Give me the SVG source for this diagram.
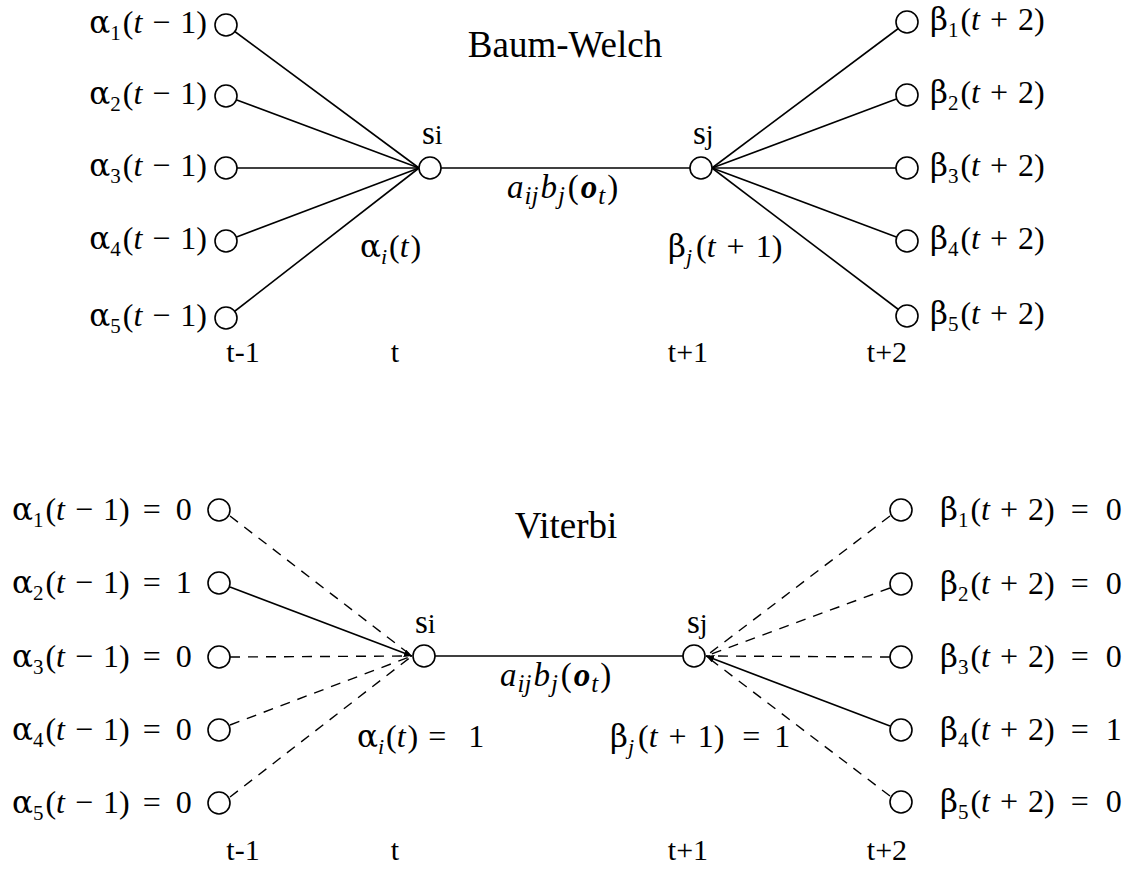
<svg xmlns="http://www.w3.org/2000/svg" width="1137" height="871" viewBox="0 0 1137 871">
<style>
text{font-family:"Liberation Serif","Times New Roman",serif;font-size:32px;fill:#000}
.title{font-size:37px}
.tl{font-size:30px}
.g{font-family:"DejaVu Serif","Liberation Serif",serif;font-size:31px}
.s{font-size:21px}
.si{font-size:22px;font-style:italic}
.i{font-style:italic}
.bi{font-style:italic;font-weight:bold}
.m{font-size:33px}
.ms{font-size:25px;font-style:italic}
.sn{font-size:33px}
.ss{font-size:28px}
.n{fill:#fff;stroke:#000;stroke-width:1.6}
.e{stroke:#000;stroke-width:1.6;fill:none}
.d{stroke:#000;stroke-width:1.4;fill:none;stroke-dasharray:10 8}
</style>
<defs>
<marker id="ah" viewBox="0 0 10 10" refX="10" refY="5" markerWidth="5" markerHeight="5" orient="auto">
<path d="M0,0 L10,5 L0,10 z" fill="#000"/>
</marker>
</defs>
<rect width="1137" height="871" fill="#fff"/>

<g id="connectors">
<line class="e" x1="226" y1="25" x2="419" y2="168"/>
<line class="e" x1="226" y1="96" x2="419" y2="168"/>
<line class="e" x1="226" y1="168" x2="419" y2="168"/>
<line class="e" x1="226" y1="241" x2="419" y2="168"/>
<line class="e" x1="226" y1="318" x2="419" y2="168"/>
<line class="e" x1="430" y1="168" x2="701" y2="168"/>
<line class="e" x1="712" y1="168" x2="907" y2="22"/>
<line class="e" x1="712" y1="168" x2="907" y2="95"/>
<line class="e" x1="712" y1="168" x2="907" y2="168"/>
<line class="e" x1="712" y1="168" x2="907" y2="241"/>
<line class="e" x1="712" y1="168" x2="907" y2="316"/>
<line class="d" x1="230" y1="516" x2="412" y2="656"/>
<line class="e" x1="230" y1="587" x2="412" y2="656" marker-end="url(#ah)"/>
<line class="d" x1="230" y1="657" x2="412" y2="656"/>
<line class="d" x1="230" y1="725" x2="412" y2="656"/>
<line class="d" x1="230" y1="797" x2="412" y2="656"/>
<line class="e" x1="424" y1="656" x2="694" y2="656"/>
<line class="d" x1="890" y1="516" x2="706" y2="656"/>
<line class="d" x1="890" y1="588" x2="706" y2="656"/>
<line class="d" x1="890" y1="657" x2="706" y2="656"/>
<line class="e" x1="890" y1="726" x2="706" y2="656" marker-end="url(#ah)"/>
<line class="d" x1="890" y1="796" x2="706" y2="656"/>
</g>

<g id="baum-welch">
<text class="title" x="565" y="57" text-anchor="middle">Baum-Welch</text>
<g id="a1"><circle class="n" cx="226" cy="25" r="11"/><text x="207" y="33" text-anchor="end"><tspan class="g">α</tspan><tspan class="s" dy="7">1</tspan><tspan dy="-7" dx="2">(</tspan><tspan class="i">t</tspan><tspan dx="10">−</tspan><tspan dx="10">1)</tspan></text></g>
<g id="a2"><circle class="n" cx="226" cy="96" r="11"/><text x="207" y="104" text-anchor="end"><tspan class="g">α</tspan><tspan class="s" dy="7">2</tspan><tspan dy="-7" dx="2">(</tspan><tspan class="i">t</tspan><tspan dx="10">−</tspan><tspan dx="10">1)</tspan></text></g>
<g id="a3"><circle class="n" cx="226" cy="168" r="11"/><text x="207" y="176" text-anchor="end"><tspan class="g">α</tspan><tspan class="s" dy="7">3</tspan><tspan dy="-7" dx="2">(</tspan><tspan class="i">t</tspan><tspan dx="10">−</tspan><tspan dx="10">1)</tspan></text></g>
<g id="a4"><circle class="n" cx="226" cy="241" r="11"/><text x="207" y="249" text-anchor="end"><tspan class="g">α</tspan><tspan class="s" dy="7">4</tspan><tspan dy="-7" dx="2">(</tspan><tspan class="i">t</tspan><tspan dx="10">−</tspan><tspan dx="10">1)</tspan></text></g>
<g id="a5"><circle class="n" cx="226" cy="318" r="11"/><text x="207" y="326" text-anchor="end"><tspan class="g">α</tspan><tspan class="s" dy="7">5</tspan><tspan dy="-7" dx="2">(</tspan><tspan class="i">t</tspan><tspan dx="10">−</tspan><tspan dx="10">1)</tspan></text></g>
<g id="si"><circle class="n" cx="430" cy="168" r="11"/><text class="sn" x="422" y="144">s<tspan class="ss">i</tspan></text></g>
<g id="sj"><circle class="n" cx="701" cy="168" r="11"/><text class="sn" x="693" y="144">s<tspan class="ss">j</tspan></text></g>
<g id="b1"><circle class="n" cx="907" cy="22" r="11"/><text x="930" y="30"><tspan class="g">β</tspan><tspan class="s" dy="7">1</tspan><tspan dy="-7" dx="2">(</tspan><tspan class="i">t</tspan><tspan dx="10">+</tspan><tspan dx="10">2)</tspan></text></g>
<g id="b2"><circle class="n" cx="907" cy="95" r="11"/><text x="930" y="103"><tspan class="g">β</tspan><tspan class="s" dy="7">2</tspan><tspan dy="-7" dx="2">(</tspan><tspan class="i">t</tspan><tspan dx="10">+</tspan><tspan dx="10">2)</tspan></text></g>
<g id="b3"><circle class="n" cx="907" cy="168" r="11"/><text x="930" y="176"><tspan class="g">β</tspan><tspan class="s" dy="7">3</tspan><tspan dy="-7" dx="2">(</tspan><tspan class="i">t</tspan><tspan dx="10">+</tspan><tspan dx="10">2)</tspan></text></g>
<g id="b4"><circle class="n" cx="907" cy="241" r="11"/><text x="930" y="249"><tspan class="g">β</tspan><tspan class="s" dy="7">4</tspan><tspan dy="-7" dx="2">(</tspan><tspan class="i">t</tspan><tspan dx="10">+</tspan><tspan dx="10">2)</tspan></text></g>
<g id="b5"><circle class="n" cx="907" cy="316" r="11"/><text x="930" y="324"><tspan class="g">β</tspan><tspan class="s" dy="7">5</tspan><tspan dy="-7" dx="2">(</tspan><tspan class="i">t</tspan><tspan dx="10">+</tspan><tspan dx="10">2)</tspan></text></g>
<text class="m" x="507" y="198"><tspan class="i">a</tspan><tspan class="ms" dy="6" dx="1">ij</tspan><tspan class="i" dy="-6" dx="2">b</tspan><tspan class="ms" dy="6" dx="1">j</tspan><tspan dy="-6" dx="3">(</tspan><tspan class="bi" dx="2">o</tspan><tspan class="ms" dy="6" dx="1">t</tspan><tspan dy="-6" dx="2">)</tspan></text>
<text x="360" y="257"><tspan class="g">α</tspan><tspan class="si" dy="7">i</tspan><tspan dy="-7" dx="2">(</tspan><tspan class="i">t</tspan><tspan dx="2">)</tspan></text>
<text x="668" y="257"><tspan class="g">β</tspan><tspan class="si" dy="7">j</tspan><tspan dy="-7" dx="4">(</tspan><tspan class="i">t</tspan><tspan dx="11">+</tspan><tspan dx="11">1)</tspan></text>
<text class="tl" x="243" y="362" text-anchor="middle">t-1</text>
<text class="tl" x="395" y="362" text-anchor="middle">t</text>
<text class="tl" x="688" y="362" text-anchor="middle">t+1</text>
<text class="tl" x="887" y="362" text-anchor="middle">t+2</text>
</g>

<g id="viterbi">
<text class="title" x="566" y="538" text-anchor="middle">Viterbi</text>
<g id="va1"><circle class="n" cx="219" cy="510" r="11"/><text x="12" y="520"><tspan class="g">α</tspan><tspan class="s" dy="7">1</tspan><tspan dy="-7" dx="2">(</tspan><tspan class="i">t</tspan><tspan dx="10">−</tspan><tspan dx="10">1)</tspan><tspan dx="13">=</tspan><tspan dx="15">0</tspan></text></g>
<g id="va2"><circle class="n" cx="219" cy="583" r="11"/><text x="12" y="593"><tspan class="g">α</tspan><tspan class="s" dy="7">2</tspan><tspan dy="-7" dx="2">(</tspan><tspan class="i">t</tspan><tspan dx="10">−</tspan><tspan dx="10">1)</tspan><tspan dx="13">=</tspan><tspan dx="15">1</tspan></text></g>
<g id="va3"><circle class="n" cx="219" cy="657" r="11"/><text x="12" y="667"><tspan class="g">α</tspan><tspan class="s" dy="7">3</tspan><tspan dy="-7" dx="2">(</tspan><tspan class="i">t</tspan><tspan dx="10">−</tspan><tspan dx="10">1)</tspan><tspan dx="13">=</tspan><tspan dx="15">0</tspan></text></g>
<g id="va4"><circle class="n" cx="219" cy="730" r="11"/><text x="12" y="740"><tspan class="g">α</tspan><tspan class="s" dy="7">4</tspan><tspan dy="-7" dx="2">(</tspan><tspan class="i">t</tspan><tspan dx="10">−</tspan><tspan dx="10">1)</tspan><tspan dx="13">=</tspan><tspan dx="15">0</tspan></text></g>
<g id="va5"><circle class="n" cx="219" cy="803" r="11"/><text x="12" y="813"><tspan class="g">α</tspan><tspan class="s" dy="7">5</tspan><tspan dy="-7" dx="2">(</tspan><tspan class="i">t</tspan><tspan dx="10">−</tspan><tspan dx="10">1)</tspan><tspan dx="13">=</tspan><tspan dx="15">0</tspan></text></g>
<g id="vsi"><circle class="n" cx="424" cy="656" r="11"/><text class="sn" x="415" y="633">s<tspan class="ss">i</tspan></text></g>
<g id="vsj"><circle class="n" cx="694" cy="656" r="11"/><text class="sn" x="687" y="633">s<tspan class="ss">j</tspan></text></g>
<g id="vb1"><circle class="n" cx="901" cy="510" r="11"/><text x="940" y="520"><tspan class="g">β</tspan><tspan class="s" dy="7">1</tspan><tspan dy="-7" dx="2">(</tspan><tspan class="i">t</tspan><tspan dx="10">+</tspan><tspan dx="10">2)</tspan><tspan dx="16">=</tspan><tspan dx="17">0</tspan></text></g>
<g id="vb2"><circle class="n" cx="901" cy="584" r="11"/><text x="940" y="594"><tspan class="g">β</tspan><tspan class="s" dy="7">2</tspan><tspan dy="-7" dx="2">(</tspan><tspan class="i">t</tspan><tspan dx="10">+</tspan><tspan dx="10">2)</tspan><tspan dx="16">=</tspan><tspan dx="17">0</tspan></text></g>
<g id="vb3"><circle class="n" cx="901" cy="657" r="11"/><text x="940" y="667"><tspan class="g">β</tspan><tspan class="s" dy="7">3</tspan><tspan dy="-7" dx="2">(</tspan><tspan class="i">t</tspan><tspan dx="10">+</tspan><tspan dx="10">2)</tspan><tspan dx="16">=</tspan><tspan dx="17">0</tspan></text></g>
<g id="vb4"><circle class="n" cx="901" cy="730" r="11"/><text x="940" y="740"><tspan class="g">β</tspan><tspan class="s" dy="7">4</tspan><tspan dy="-7" dx="2">(</tspan><tspan class="i">t</tspan><tspan dx="10">+</tspan><tspan dx="10">2)</tspan><tspan dx="16">=</tspan><tspan dx="17">1</tspan></text></g>
<g id="vb5"><circle class="n" cx="901" cy="802" r="11"/><text x="940" y="812"><tspan class="g">β</tspan><tspan class="s" dy="7">5</tspan><tspan dy="-7" dx="2">(</tspan><tspan class="i">t</tspan><tspan dx="10">+</tspan><tspan dx="10">2)</tspan><tspan dx="16">=</tspan><tspan dx="17">0</tspan></text></g>
<text class="m" x="500" y="686"><tspan class="i">a</tspan><tspan class="ms" dy="6" dx="1">ij</tspan><tspan class="i" dy="-6" dx="2">b</tspan><tspan class="ms" dy="6" dx="1">j</tspan><tspan dy="-6" dx="3">(</tspan><tspan class="bi" dx="2">o</tspan><tspan class="ms" dy="6" dx="1">t</tspan><tspan dy="-6" dx="2">)</tspan></text>
<text x="357" y="747"><tspan class="g">α</tspan><tspan class="si" dy="7">i</tspan><tspan dy="-7" dx="2">(</tspan><tspan class="i">t</tspan><tspan dx="2">)</tspan><tspan dx="10">=</tspan><tspan dx="22">1</tspan></text>
<text x="610" y="747"><tspan class="g">β</tspan><tspan class="si" dy="7">j</tspan><tspan dy="-7" dx="4">(</tspan><tspan class="i">t</tspan><tspan dx="11">+</tspan><tspan dx="11">1)</tspan><tspan dx="18">=</tspan><tspan dx="14">1</tspan></text>
<text class="tl" x="243" y="860" text-anchor="middle">t-1</text>
<text class="tl" x="395" y="860" text-anchor="middle">t</text>
<text class="tl" x="688" y="860" text-anchor="middle">t+1</text>
<text class="tl" x="887" y="860" text-anchor="middle">t+2</text>
</g>
</svg>
